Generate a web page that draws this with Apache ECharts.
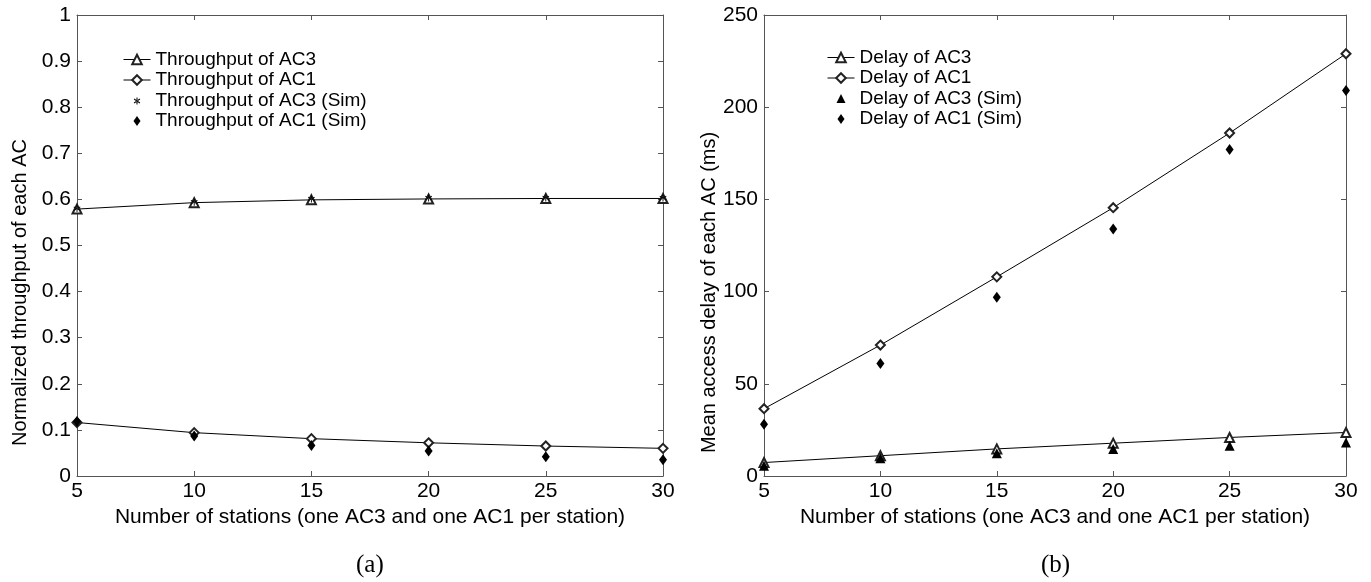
<!DOCTYPE html>
<html>
<head>
<meta charset="utf-8">
<script src="https://cdn.jsdelivr.net/npm/echarts@6/dist/echarts.min.js"></script>
<style>
  html, body { margin: 0; padding: 0; background: #fff; }
  #chart { width: 1371px; height: 582px; }
</style>
</head>
<body>
<div id="chart"></div>
<script>
const stations = [5, 10, 15, 20, 25, 30]

// (a) normalized throughput
const thrAC3 = [0.579, 0.593, 0.599, 0.601, 0.602, 0.602]
const thrAC1 = [0.116, 0.094, 0.081, 0.072, 0.065, 0.060]
const thrAC3Sim = [0.580, 0.594, 0.601, 0.603, 0.603, 0.603]
const thrAC1Sim = [0.118, 0.087, 0.066, 0.054, 0.042, 0.035]

// (b) mean access delay (ms)
const delAC3 = [7.3, 11.0, 14.7, 17.8, 20.9, 23.6]
const delAC1 = [36.5, 71, 108, 145.5, 186, 229]
const delAC3Sim = [5.5, 9.6, 12.4, 14.6, 16.4, 18.2]
const delAC1Sim = [28, 61, 97, 134, 177, 209]

const pairs = (ys) => stations.map((x, i) => [x, ys[i]])

const FONT = '"Liberation Sans", Arial, sans-serif'
const SERIF = '"Liberation Serif", "Times New Roman", serif'
const AXIS_GRAY = '#555'
const asterisk = 'path://M-0.6,-5L0.6,-5L0.6,5L-0.6,5Z M-4.6,-2L-4,-3.1L4.6,2L4,3.1Z M-4.6,2L-4,3.1L4.6,-2L4,-3.1Z'
// legend icons: the M moves at the corners keep the 27x12 box so the mark is not stretched
const legDiamond = 'path://M0,0M27,12M13.5,1L17,6L13.5,11L10,6Z'
const legTriangle = 'path://M0,0M27,12M13.5,1.5L18,10.5L9,10.5Z'
const legAsterisk = 'path://M0,0M27,12M13,3L14,3L14,10L13,10Z M10.3,4.9L10.8,4L16.7,8.1L16.2,9Z M10.3,8.1L10.8,9L16.7,4.9L16.2,4Z'

function xAx(gridIndex, top) {
  return {
    type: 'value', gridIndex, min: 5, max: 30, interval: 5,
    position: top ? 'top' : 'bottom',
    name: top ? '' : 'Number of stations (one AC3 and one AC1 per station)',
    nameLocation: 'middle', nameGap: 28,
    nameTextStyle: { color: '#000', fontSize: 21, fontFamily: FONT },
    axisLine: { onZero: false, lineStyle: { color: AXIS_GRAY, width: 1 } },
    axisTick: { inside: true, length: 5, lineStyle: { color: AXIS_GRAY } },
    axisLabel: { show: !top, color: '#000', fontSize: 21, fontFamily: FONT, margin: 5 },
    splitLine: { show: false },
  }
}

function yAx(gridIndex, right, max, interval, name, nameGap) {
  return {
    type: 'value', gridIndex, min: 0, max, interval,
    position: right ? 'right' : 'left',
    name: right ? '' : name,
    nameLocation: 'middle', nameGap,
    // right padding pushes the rotated title down, as in the original
    nameTextStyle: { color: '#000', fontSize: 20, fontFamily: FONT, padding: [0, 94, 0, 0] },
    axisLine: { show: true, onZero: false, lineStyle: { color: AXIS_GRAY, width: 1 } },
    axisTick: { show: true, inside: true, length: 5, lineStyle: { color: AXIS_GRAY } },
    axisLabel: { show: !right, color: '#000', fontSize: 21, fontFamily: FONT, margin: 6 },
    splitLine: { show: false },
  }
}

function lineSeries(name, data, xi, yi, symbol) {
  return {
    name, type: 'line', data, xAxisIndex: xi, yAxisIndex: yi,
    symbol, symbolSize: 9, showAllSymbol: true,
    lineStyle: { color: '#000', width: 1 },
    itemStyle: { color: '#222', borderWidth: 0.8 },
    animation: false, z: 2,
  }
}

function simSeries(name, data, xi, yi, symbol, size) {
  return {
    name, type: 'scatter', data, xAxisIndex: xi, yAxisIndex: yi,
    symbol, symbolSize: size,
    itemStyle: { color: '#000', opacity: 1 },
    animation: false, z: 3,
  }
}

function legend(left, top, names, icons) {
  return {
    left, top, orient: 'vertical', itemGap: 1.5,
    itemWidth: 27, itemHeight: 12,
    textStyle: { color: '#000', fontSize: 19, fontFamily: FONT },
    lineStyle: { width: 1, color: '#000' },
    itemStyle: { borderWidth: 0.8 },
    data: names.map((n, i) => (icons[i] ? { name: n, icon: icons[i] } : n)),
  }
}

const option = {
  backgroundColor: '#fff',
  animation: false,
  grid: [
    { left: 77, right: 708, top: 15, bottom: 106 },
    { left: 764, right: 25, top: 15, bottom: 106 },
  ],
  xAxis: [xAx(0, false), xAx(0, true), xAx(1, false), xAx(1, true)],
  yAxis: [
    yAx(0, false, 1, 0.1, 'Normalized throughput of each AC', 47),
    yAx(0, true, 1, 0.1, '', 0),
    yAx(1, false, 250, 50, 'Mean access delay of each AC (ms)', 45),
    yAx(1, true, 250, 50, '', 0),
  ],
  legend: [
    legend(118, 45,
      ['Throughput of AC3', 'Throughput of AC1', 'Throughput of AC3 (Sim)', 'Throughput of AC1 (Sim)'],
      [null, null, legAsterisk, legDiamond]),
    legend(822, 43,
      ['Delay of AC3', 'Delay of AC1', 'Delay of AC3 (Sim)', 'Delay of AC1 (Sim)'],
      [null, null, legTriangle, legDiamond]),
  ],
  graphic: [
    { type: 'text', left: 356, top: 553, style: { text: '(a)', fontSize: 25, fontFamily: SERIF, fill: '#000' } },
    { type: 'text', left: 1041, top: 553, style: { text: '(b)', fontSize: 25, fontFamily: SERIF, fill: '#000' } },
  ],
  series: [
    lineSeries('Throughput of AC3', pairs(thrAC3), 0, 0, 'emptyTriangle'),
    lineSeries('Throughput of AC1', pairs(thrAC1), 0, 0, 'emptyDiamond'),
    simSeries('Throughput of AC3 (Sim)', pairs(thrAC3Sim), 0, 0, asterisk, 7),
    simSeries('Throughput of AC1 (Sim)', pairs(thrAC1Sim), 0, 0, 'diamond', [8, 11]),
    lineSeries('Delay of AC3', pairs(delAC3), 2, 2, 'emptyTriangle'),
    lineSeries('Delay of AC1', pairs(delAC1), 2, 2, 'emptyDiamond'),
    simSeries('Delay of AC3 (Sim)', pairs(delAC3Sim), 2, 2, 'triangle', 10),
    simSeries('Delay of AC1 (Sim)', pairs(delAC1Sim), 2, 2, 'diamond', [8, 11]),
  ],
}

const chart = echarts.init(document.getElementById('chart'), null, { renderer: 'canvas' })
chart.setOption(option)
</script>
</body>
</html>
